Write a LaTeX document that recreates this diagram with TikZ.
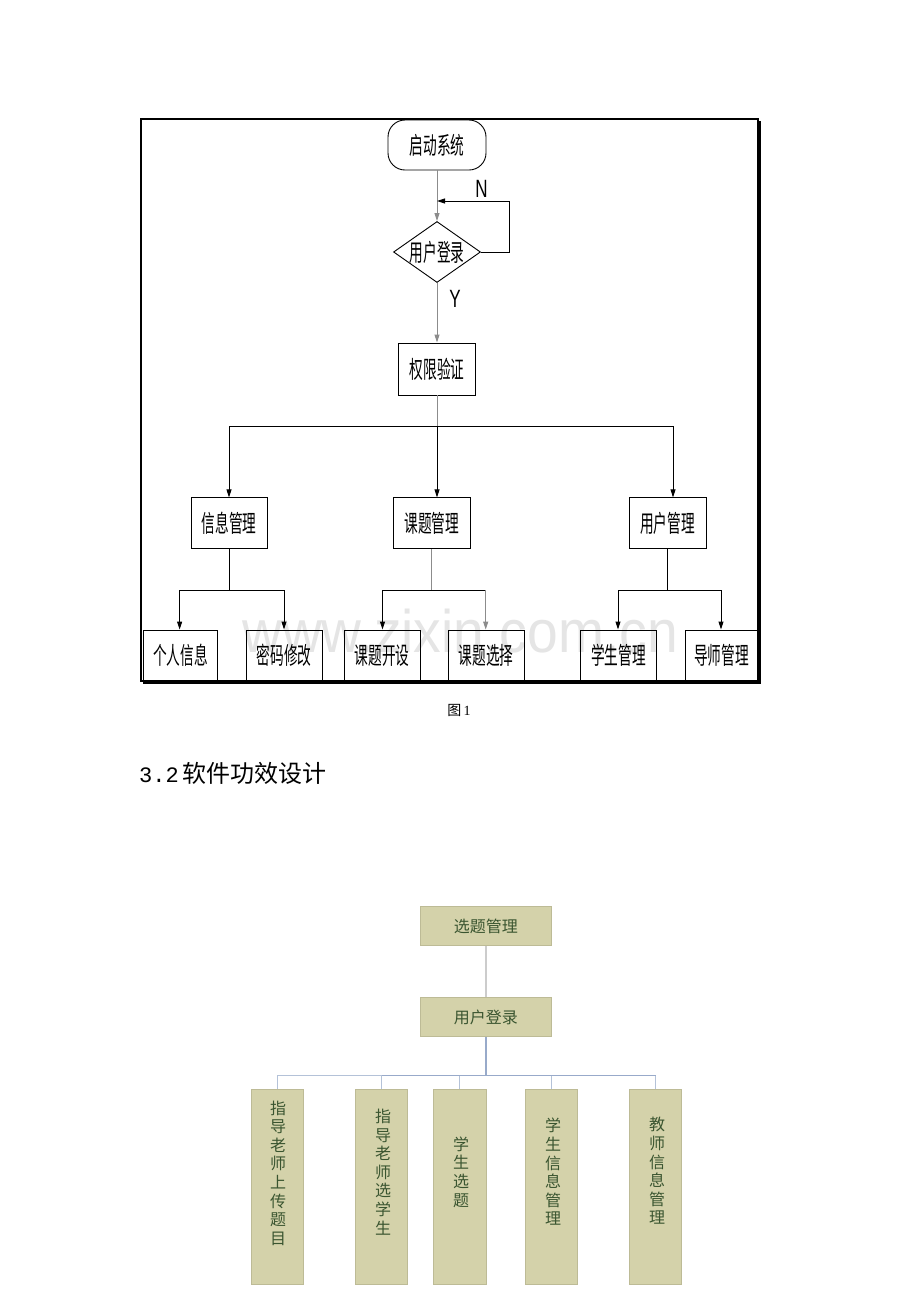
\documentclass[tikz,border=0pt]{standalone}
\usepackage{fontspec}
\usetikzlibrary{shapes.geometric,arrows.meta}
\setmainfont{Liberation Serif}
\newfontfamily\cjkn[FakeStretch=0.57]{Noto Sans CJK SC}
\newfontfamily\cjk{Noto Sans CJK SC}
\newfontfamily\narrowsans[FakeStretch=0.68]{Liberation Sans}
\newfontfamily\wmfont[FakeStretch=0.92]{Liberation Sans}
\newfontfamily\monofont{Liberation Mono}
\definecolor{boxfill}{HTML}{D4D2AA}
\definecolor{boxline}{HTML}{BDBB96}
\definecolor{gtext}{HTML}{3A5530}
\definecolor{bline}{HTML}{B4C2D8}
\definecolor{bdark}{HTML}{98AACA}
\tikzset{
  arr/.tip={Triangle[length=8pt,width=5pt]},
  fbox/.style={draw, line width=0.9pt, inner sep=0pt, font=\cjkn\fontsize{24}{24}\selectfont},
  conn/.style={draw, line width=0.9pt},
  gconn/.style={draw=black!45, line width=0.9pt},
  gbox/.style={fill=boxfill, draw=boxline, line width=0.8pt, inner sep=0pt},
  vtext/.style={align=center, text=gtext, inner sep=0pt, font=\cjk\fontsize{16}{18.6}\selectfont},
  htext/.style={text=gtext, inner sep=0pt, font=\cjk\fontsize{16}{16}\selectfont},
}
\begin{document}
\begin{tikzpicture}[x=1pt,y=-1pt]
\useasboundingbox (0,0) rectangle (920,1302);
\fill[white] (0,0) rectangle (920,1302);

% watermark
\node[anchor=base, text=black!10, inner sep=0pt, font=\wmfont\fontsize{60}{60}\selectfont] (wm) at (460,652) {www.zixin.com.cn};

% frame
\draw[line width=2pt] (143,682.5) -- (760,682.5) -- (760,121);
\draw[line width=2.6pt] (141,119) rectangle (758,681);

% flowchart nodes
\node[fbox, fill=white, rounded corners=17pt, minimum width=98pt, minimum height=50pt] (start) at (437,145) {启动系统};
\node[fbox, diamond, aspect=1.426, minimum width=87pt, minimum height=61pt] (dia) at (437,252) {用户登录};
\node[fbox, minimum width=77pt, minimum height=52pt] (auth) at (437,369) {权限验证};

\node[fbox, minimum width=76pt, minimum height=51pt] (xxgl) at (229,523.3) {信息管理};
\node[fbox, minimum width=76.5pt, minimum height=51pt] (ktgl) at (431.7,523.3) {课题管理};
\node[fbox, minimum width=77pt, minimum height=51pt] (yhgl) at (667.5,523.3) {用户管理};

\node[fbox, minimum width=74pt, minimum height=51pt] (grxx) at (180.6,655.5) {个人信息};
\node[fbox, minimum width=76pt, minimum height=51pt] (mmxg) at (284,655.5) {密码修改};
\node[fbox, minimum width=76.6pt, minimum height=51pt] (ktks) at (382.3,655.5) {课题开设};
\node[fbox, minimum width=76.7pt, minimum height=51pt] (ktxz) at (486.3,655.5) {课题选择};
\node[fbox, minimum width=76pt, minimum height=51pt] (xsgl) at (618.5,655.5) {学生管理};
\node[fbox, minimum width=73pt, minimum height=51pt] (dsgl) at (721.5,655.5) {导师管理};

% labels
\node[inner sep=0pt, font=\narrowsans\fontsize{25}{25}\selectfont] (lN) at (481.5,189) {N};
\node[inner sep=0pt, font=\narrowsans\fontsize{25}{25}\selectfont] (lY) at (455,299) {Y};

% flowchart connectors
\draw[gconn, -{arr}] (start) -- (dia);
\coordinate (loopA) at (509,252);
\coordinate (loopB) at (509,201);
\coordinate (loopC) at (437,201);
\draw[conn, -{arr}] (dia.east) -- (loopA) -- (loopB) -- (loopC);
\draw[gconn, -{arr}] (dia) -- (auth);

\coordinate (j0) at (437,426);
\coordinate (jl) at (229,426);
\coordinate (jr) at (673,426);
\draw[gconn] (auth) -- (j0);
\draw[conn] (jl) -- (jr);
\draw[conn, -{arr}] (jl) -- (jl |- xxgl.north);
\draw[conn, -{arr}] (j0) -- (j0 |- ktgl.north);
\draw[conn, -{arr}] (jr) -- (jr |- yhgl.north);

% sub level
\coordinate (a0) at (229,590);
\coordinate (a1) at (179.6,590);
\coordinate (a2) at (284,590);
\draw[conn] (xxgl) -- (a0);
\draw[conn] (a1) -- (a2);
\draw[conn, -{arr}] (a1) -- (a1 |- grxx.north);
\draw[conn, -{arr}] (a2) -- (a2 |- mmxg.north);

\coordinate (b0) at (431.7,590);
\coordinate (b1) at (382.5,590);
\coordinate (b2) at (485.7,590);
\draw[gconn] (ktgl) -- (b0);
\draw[conn] (b1) -- (b2);
\draw[conn, -{arr}] (b1) -- (b1 |- ktks.north);
\draw[gconn, -{arr}] (b2) -- (b2 |- ktxz.north);

\coordinate (c0) at (667.5,590);
\coordinate (c1) at (618,590);
\coordinate (c2) at (721,590);
\draw[conn] (yhgl) -- (c0);
\draw[conn] (c1) -- (c2);
\draw[conn, -{arr}] (c1) -- (c1 |- xsgl.north);
\draw[conn, -{arr}] (c2) -- (c2 |- dsgl.north);

% caption and heading
\node[anchor=base, inner sep=0pt, font=\fontsize{14}{14}\selectfont] (cap) at (459,715) {{\cjk 图}\,1};
\node[anchor=base west, inner sep=0pt] (head) at (139,782) {{\monofont\fontsize{22}{22}\selectfont 3.2}\hspace{4pt}{\cjk\fontsize{24}{24}\selectfont 软件功效设计}};

% second chart
\node[gbox, minimum width=131pt, minimum height=39pt] (xtgl) at (485.8,926.2) {};
\node[htext] (xtglt) at (485.8,926.2) {选题管理};
\node[gbox, minimum width=131pt, minimum height=39pt] (yhdl) at (485.8,1017.3) {};
\node[htext] (yhdlt) at (485.8,1017.3) {用户登录};
\draw[draw=black!20, line width=2pt] (xtgl) -- (yhdl);

\node[gbox, minimum width=52.7pt, minimum height=195pt] (v1) at (277.3,1186.8) {};
\node[gbox, minimum width=52.4pt, minimum height=195pt] (v2) at (381.5,1186.8) {};
\node[gbox, minimum width=52.7pt, minimum height=195pt] (v3) at (459.7,1186.8) {};
\node[gbox, minimum width=52.3pt, minimum height=195pt] (v4) at (551.2,1186.8) {};
\node[gbox, minimum width=52.4pt, minimum height=195pt] (v5) at (655.5,1186.8) {};

\node[vtext] (t1) at (278,1173) {指\\导\\老\\师\\上\\传\\题\\目};
\node[vtext] (t2) at (383,1172) {指\\导\\老\\师\\选\\学\\生};
\node[vtext] (t3) at (461,1172) {学\\生\\选\\题};
\node[vtext] (t4) at (553,1172) {学\\生\\信\\息\\管\\理};
\node[vtext] (t5) at (657,1171) {教\\师\\信\\息\\管\\理};

\coordinate (bar) at (485.8,1075.7);
\draw[draw=bdark, line width=1.6pt] (yhdl) -- (bar);
\draw[draw=bline, line width=1pt] (bar -| v1.north) -- (bar -| v5.north);
\draw[draw=bdark, line width=1pt] (bar -| v2.north) -- (bar -| v5.north);
\foreach \v in {v1,v2,v3,v4,v5}{
  \draw[draw=bline, line width=1pt] (bar -| \v.north) -- (\v.north);
}
\end{tikzpicture}
\end{document}
